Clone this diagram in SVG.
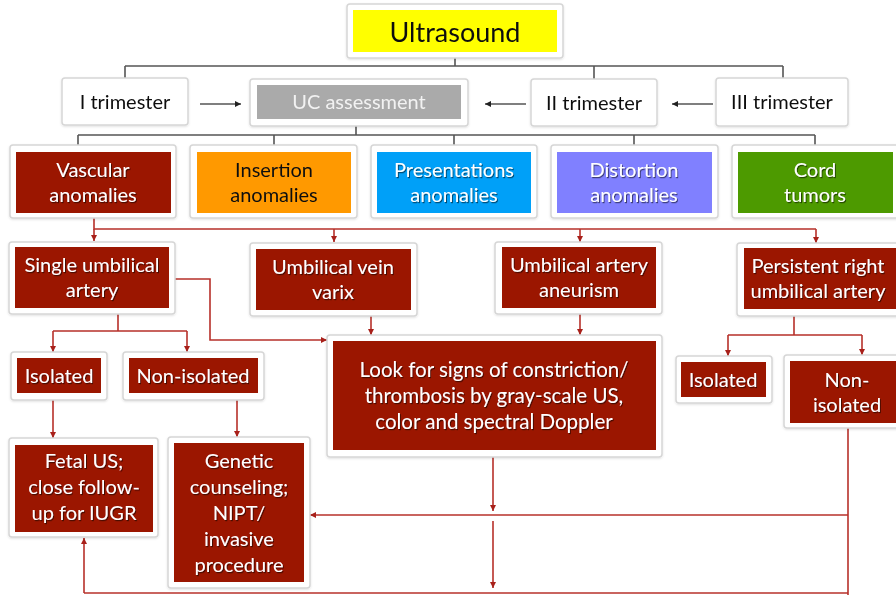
<svg xmlns="http://www.w3.org/2000/svg" width="896" height="595" viewBox="0 0 896 595">
  <defs>
    <style>
      .frame { fill: #ffffff; stroke: #d6d6d6; stroke-width: 1.5; }
      .red { fill: #9b1406; }
      .t { font-family: Lato, "Gill Sans", "Open Sans", sans-serif; font-size: 20px; text-anchor: middle; }
      .big { font-size: 27px; }
      .mid { font-size: 20.5px; }
      .w { fill: #ffffff; filter: url(#txtShadow); }
      .k { fill: #111111; }
      .gl { fill: none; stroke: #555555; stroke-width: 1.6; }
      .rl { fill: none; stroke: #b7302a; stroke-width: 1.6; }
      .ga { marker-end: url(#arrowDark); }
      .ra { marker-end: url(#arrowRed); }
    </style>
    <filter id="txtShadow" x="-10%" y="-20%" width="120%" height="150%">
      <feDropShadow dx="1" dy="1.2" stdDeviation="0.7" flood-color="#000000" flood-opacity="0.55"/>
    </filter>
    <filter id="boxShadow" x="-5%" y="-5%" width="110%" height="115%">
      <feDropShadow dx="0" dy="1" stdDeviation="1" flood-color="#000000" flood-opacity="0.12"/>
    </filter>
    <marker id="arrowDark" viewBox="0 0 6 6" refX="6" refY="3" markerWidth="6" markerHeight="6" markerUnits="userSpaceOnUse" orient="auto">
      <path d="M0,0 L6,3 L0,6 z" fill="#222222"/>
    </marker>
    <marker id="arrowRed" viewBox="0 0 6 6" refX="6" refY="3" markerWidth="6" markerHeight="6" markerUnits="userSpaceOnUse" orient="auto">
      <path d="M0,0 L6,3 L0,6 z" fill="#a8201a"/>
    </marker>
  </defs>

  <rect width="896" height="595" fill="#ffffff"/>

  <!-- connectors -->
  <g id="connectors">
    <!-- tree below the top box -->
    <path class="gl" d="M455 58 V66 M125 66 H783 M125 66 V78 M594 66 V79 M783 66 V78"/>
    <path class="gl ga" d="M200 104 H241"/>
    <path class="gl ga" d="M526 104 H485"/>
    <path class="gl ga" d="M713 104 H672"/>
    <path class="gl" d="M356 126 V135 M78 135 H815 M78 135 V145 M274 135 V145 M454 135 V145 M634 135 V145 M815 135 V145"/>

    <!-- vascular anomalies branches -->
    <path class="rl" d="M94 218 V229 H816"/>
    <path class="rl ra" d="M94 229 V241"/>
    <path class="rl ra" d="M334 229 V242"/>
    <path class="rl ra" d="M580 229 V242"/>
    <path class="rl ra" d="M816 229 V243"/>

    <!-- single umbilical artery -->
    <path class="rl ra" d="M175 279 H210 V340 H327"/>
    <path class="rl" d="M118 314 V331 M53 331 H187"/>
    <path class="rl ra" d="M53 331 V352"/>
    <path class="rl ra" d="M187 331 V352"/>

    <path class="rl ra" d="M371 316 V335"/>
    <path class="rl ra" d="M580 314 V335"/>

    <!-- persistent right umbilical artery -->
    <path class="rl" d="M794 316 V335 M728 335 H862"/>
    <path class="rl ra" d="M728 335 V356"/>
    <path class="rl ra" d="M862 335 V355"/>

    <path class="rl ra" d="M53 400 V438"/>
    <path class="rl ra" d="M237 400 V437"/>

    <!-- lower routing -->
    <path class="rl ra" d="M493 457 V511"/>
    <path class="rl" d="M848 428 V595"/>
    <path class="rl ra" d="M848 515 H310"/>
    <path class="rl ra" d="M493 521 V588"/>
    <path class="rl" d="M84 593 H848"/>
    <path class="rl ra" d="M84 593 V538"/>
  </g>

  <!-- top -->
  <g id="ultrasound" filter="url(#boxShadow)">
    <rect class="frame" x="347" y="4" width="216" height="54" rx="3"/>
    <rect x="353" y="10" width="204" height="42" fill="#ffff00"/>
    <text class="t big k" x="455" y="42">Ultrasound</text>
  </g>

  <!-- trimesters -->
  <g id="trimester-1" filter="url(#boxShadow)">
    <rect class="frame" x="62" y="78" width="126" height="47" rx="3"/>
    <text class="t k" x="125" y="109">I trimester</text>
  </g>
  <g id="uc-assessment" filter="url(#boxShadow)">
    <rect class="frame" x="250" y="79" width="218" height="47" rx="3"/>
    <rect x="257" y="85" width="204" height="34" fill="#aaaaaa"/>
    <text class="t" x="359" y="109" fill="#f2f2f2">UC assessment</text>
  </g>
  <g id="trimester-2" filter="url(#boxShadow)">
    <rect class="frame" x="531" y="79" width="126" height="47" rx="3"/>
    <text class="t k" x="594" y="110">II trimester</text>
  </g>
  <g id="trimester-3" filter="url(#boxShadow)">
    <rect class="frame" x="716" y="78" width="132" height="48" rx="3"/>
    <text class="t k" x="782" y="109">III trimester</text>
  </g>

  <!-- anomaly categories -->
  <g id="vascular" filter="url(#boxShadow)">
    <rect class="frame" x="10" y="145" width="166" height="73" rx="3"/>
    <rect class="red" x="16" y="152" width="155" height="61"/>
    <text class="t w" x="93" y="177">Vascular</text>
    <text class="t w" x="93" y="202">anomalies</text>
  </g>
  <g id="insertion" filter="url(#boxShadow)">
    <rect class="frame" x="190" y="145" width="167" height="73" rx="3"/>
    <rect x="197" y="152" width="154" height="61" fill="#ff9900"/>
    <text class="t k" x="274" y="177">Insertion</text>
    <text class="t k" x="274" y="202">anomalies</text>
  </g>
  <g id="presentations" filter="url(#boxShadow)">
    <rect class="frame" x="371" y="145" width="166" height="73" rx="3"/>
    <rect x="377" y="152" width="154" height="61" fill="#00a0f8"/>
    <text class="t w" x="454" y="177">Presentations</text>
    <text class="t w" x="454" y="202">anomalies</text>
  </g>
  <g id="distortion" filter="url(#boxShadow)">
    <rect class="frame" x="551" y="145" width="167" height="73" rx="3"/>
    <rect x="557" y="152" width="155" height="61" fill="#8080ff"/>
    <text class="t w" x="634" y="177">Distortion</text>
    <text class="t w" x="634" y="202">anomalies</text>
  </g>
  <g id="cord-tumors" filter="url(#boxShadow)">
    <rect class="frame" x="732" y="145" width="168" height="73" rx="3"/>
    <rect x="738" y="152" width="155" height="61" fill="#4e9a06"/>
    <text class="t w" x="815" y="177">Cord</text>
    <text class="t w" x="815" y="202">tumors</text>
  </g>

  <!-- vascular anomaly types -->
  <g id="sua" filter="url(#boxShadow)">
    <rect class="frame" x="9" y="242" width="166" height="72" rx="3"/>
    <rect class="red" x="15" y="247" width="154" height="61"/>
    <text class="t w" x="92" y="272">Single umbilical</text>
    <text class="t w" x="92" y="297">artery</text>
  </g>
  <g id="uv-varix" filter="url(#boxShadow)">
    <rect class="frame" x="250" y="243" width="167" height="73" rx="3"/>
    <rect class="red" x="256" y="249" width="155" height="61"/>
    <text class="t w" x="333" y="274">Umbilical vein</text>
    <text class="t w" x="333" y="299">varix</text>
  </g>
  <g id="ua-aneurism" filter="url(#boxShadow)">
    <rect class="frame" x="495" y="242" width="167" height="72" rx="3"/>
    <rect class="red" x="502" y="247" width="154" height="61"/>
    <text class="t w" x="579" y="272">Umbilical artery</text>
    <text class="t w" x="579" y="297">aneurism</text>
  </g>
  <g id="prua" filter="url(#boxShadow)">
    <rect class="frame" x="737" y="243" width="165" height="73" rx="3"/>
    <rect class="red" x="744" y="248" width="154" height="61"/>
    <text class="t w" x="818" y="273">Persistent right</text>
    <text class="t w" x="818" y="298">umbilical artery</text>
  </g>

  <!-- SUA subgroups -->
  <g id="sua-isolated" filter="url(#boxShadow)">
    <rect class="frame" x="11" y="352" width="96" height="48" rx="3"/>
    <rect class="red" x="17" y="358" width="84" height="35"/>
    <text class="t w" x="59" y="383">Isolated</text>
  </g>
  <g id="sua-non-isolated" filter="url(#boxShadow)">
    <rect class="frame" x="123" y="352" width="141" height="48" rx="3"/>
    <rect class="red" x="129" y="358" width="129" height="35"/>
    <text class="t w" x="193" y="383">Non-isolated</text>
  </g>

  <!-- common work-up -->
  <g id="look-for-signs" filter="url(#boxShadow)">
    <rect class="frame" x="327" y="335" width="335" height="122" rx="3"/>
    <rect class="red" x="333" y="341" width="323" height="109"/>
    <text class="t mid w" x="494" y="377">Look for signs of constriction/</text>
    <text class="t mid w" x="494" y="403">thrombosis by gray-scale US,</text>
    <text class="t mid w" x="494" y="429">color and spectral Doppler</text>
  </g>

  <!-- PRUA subgroups -->
  <g id="prua-isolated" filter="url(#boxShadow)">
    <rect class="frame" x="676" y="356" width="96" height="47" rx="3"/>
    <rect class="red" x="681" y="362" width="85" height="35"/>
    <text class="t w" x="723" y="387">Isolated</text>
  </g>
  <g id="prua-non-isolated" filter="url(#boxShadow)">
    <rect class="frame" x="784" y="355" width="118" height="73" rx="3"/>
    <rect class="red" x="790" y="361" width="110" height="62"/>
    <text class="t w" x="847" y="387">Non-</text>
    <text class="t w" x="847" y="412">isolated</text>
  </g>

  <!-- outcomes -->
  <g id="fetal-us" filter="url(#boxShadow)">
    <rect class="frame" x="9" y="438" width="149" height="99" rx="3"/>
    <rect class="red" x="15" y="445" width="138" height="87"/>
    <text class="t w" x="84" y="468">Fetal US;</text>
    <text class="t w" x="84" y="494">close follow-</text>
    <text class="t w" x="84" y="520">up for IUGR</text>
  </g>
  <g id="genetic" filter="url(#boxShadow)">
    <rect class="frame" x="168" y="437" width="142" height="151" rx="3"/>
    <rect class="red" x="174" y="443" width="130" height="139"/>
    <text class="t w" x="239" y="468">Genetic</text>
    <text class="t w" x="239" y="494">counseling;</text>
    <text class="t w" x="239" y="520">NIPT/</text>
    <text class="t w" x="239" y="546">invasive</text>
    <text class="t w" x="239" y="572">procedure</text>
  </g>
</svg>
